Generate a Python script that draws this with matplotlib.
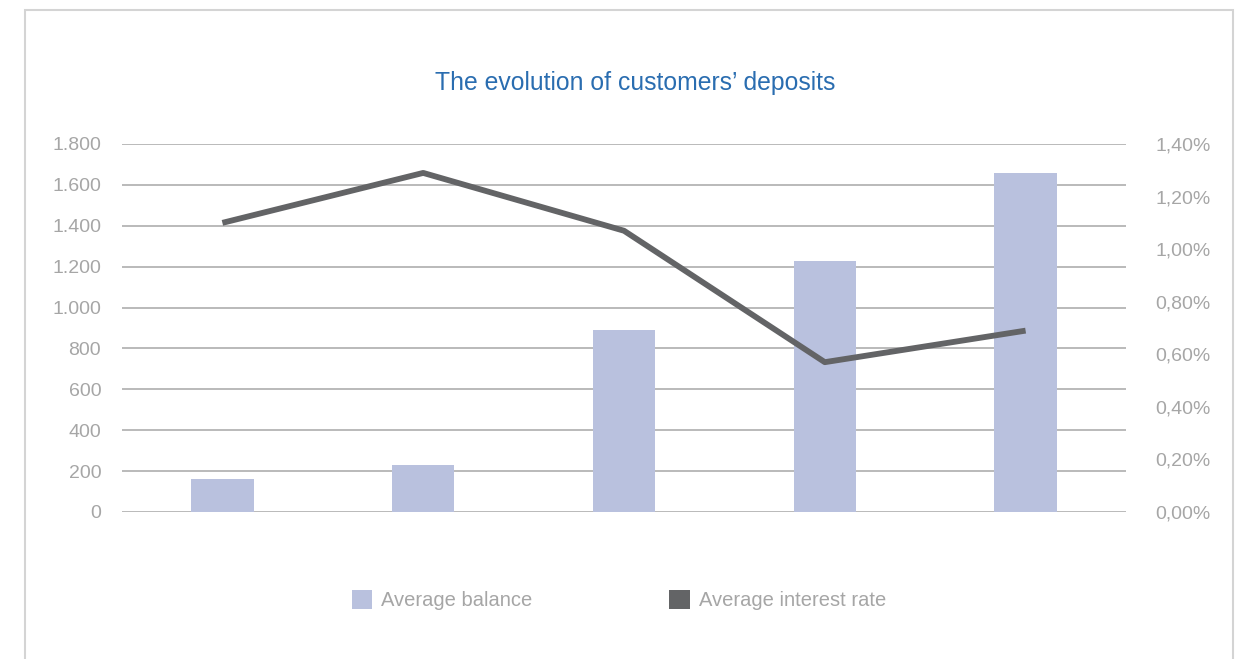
import numpy as np
import matplotlib
matplotlib.use('agg')
import matplotlib.pyplot as plt
from matplotlib.patches import Rectangle, Patch
from matplotlib.ticker import FuncFormatter

# data
years = ['Y1', 'Y2', 'Y3', 'Y4', 'Y5']
avg_balance = [160, 230, 890, 1228, 1660]
avg_rate = [1.10, 1.29, 1.07, 0.57, 0.69]

BAR_COLOR = '#b9c1de'
LINE_COLOR = '#636466'
GRID_COLOR = '#aeaeae'
TEXT_COLOR = '#a6a6a6'

plt.rcParams['font.family'] = ['Liberation Sans', 'DejaVu Sans']

fig = plt.figure(figsize=(12.4, 6.59), dpi=100)
ax = fig.add_axes([122 / 1240, 1 - 512 / 659, 1004 / 1240, 368 / 659])
ax2 = ax.twinx()

x = np.arange(len(years))
ax.bar(x, avg_balance, width=0.31, color=BAR_COLOR, zorder=2)
ax2.plot(x, avg_rate, color=LINE_COLOR, lw=4.2, solid_capstyle='butt', zorder=3)

ax.set_xlim(-0.5, len(years) - 0.5)
ax.set_ylim(0, 1800)
ax.set_yticks(np.arange(0, 1801, 200))
ax.yaxis.set_major_formatter(FuncFormatter(lambda v, p: f'{int(v):,}'.replace(',', '.')))
ax2.set_ylim(0, 1.4)
ax2.set_yticks(np.arange(0, 1.41, 0.2))
ax2.yaxis.set_major_formatter(FuncFormatter(lambda v, p: f'{v:.2f}%'.replace('.', ',')))

ax.set_xticks([])
ax.grid(axis='y', color=GRID_COLOR, lw=1.2, zorder=0)
ax.set_axisbelow(True)
for a in (ax, ax2):
    for s in a.spines.values():
        s.set_visible(False)
ax.tick_params(axis='y', length=0, pad=15, labelsize=14, labelcolor=TEXT_COLOR)
ax2.tick_params(axis='y', length=0, pad=21, labelsize=14, labelcolor=TEXT_COLOR)
ax.set_zorder(ax2.get_zorder() - 1)
ax2.patch.set_visible(False)

fig.text(635 / 1240, 1 - 83 / 659, 'The evolution of customers’ deposits',
         ha='center', va='center', fontsize=17.8, color='#2a6db0')

handles = [Patch(facecolor=BAR_COLOR, edgecolor='none'),
           Patch(facecolor=LINE_COLOR, edgecolor='none')]
fig.legend(handles, ['Average balance', 'Average interest rate'],
           loc='center', bbox_to_anchor=(619 / 1240, 1 - 600 / 659), ncol=2,
           frameon=False, fontsize=14.5, labelcolor=TEXT_COLOR,
           handlelength=1.0, handleheight=1.1, handletextpad=0.45, columnspacing=6.8)

fig.add_artist(Rectangle((25 / 1240, -0.05), 1208 / 1240, 1.05 - 10 / 659,
                         transform=fig.transFigure, fill=False,
                         edgecolor='#d4d4d4', lw=1.5))

fig.savefig('out.png', dpi=100)
